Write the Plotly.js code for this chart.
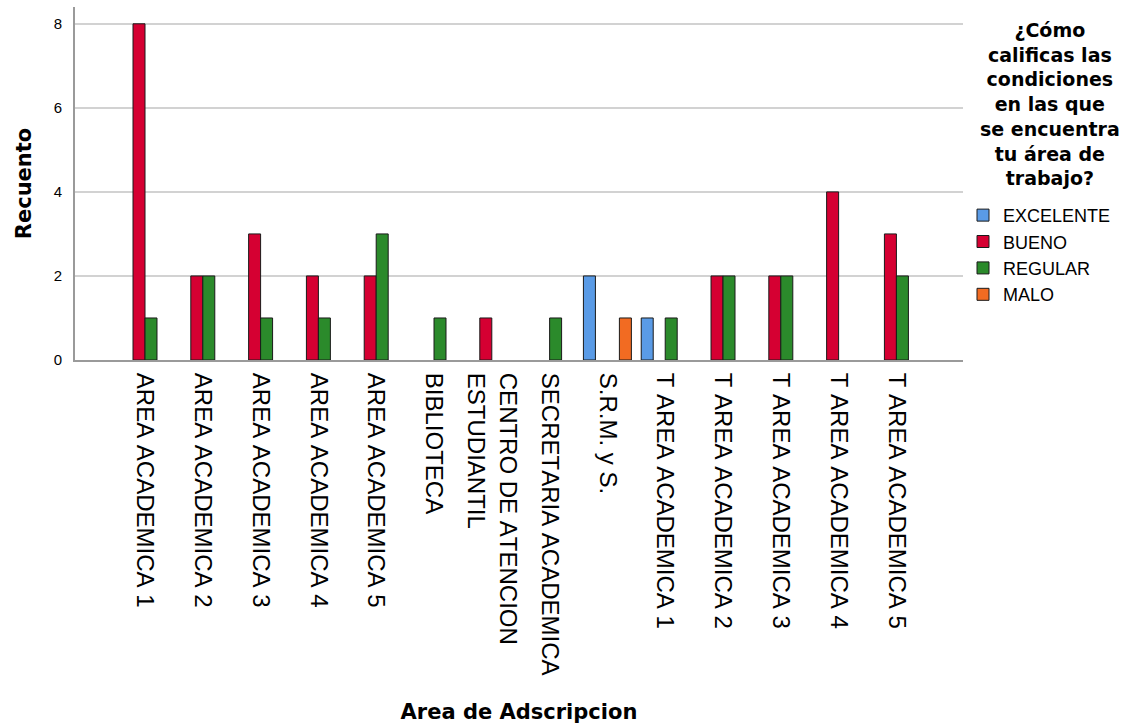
<!DOCTYPE html>
<html>
<head>
<meta charset="utf-8">
<script src="https://cdn.plot.ly/plotly-3.0.1.min.js"></script>
<style>
  html, body { margin: 0; padding: 0; background: #ffffff; }
  #chart { width: 1128px; height: 724px; }
  #chart svg text { font-kerning: none; font-feature-settings: "kern" 0; }
</style>
</head>
<body>
<div id="chart"></div>
<script>
// ---- data ----
var categories = [
  "AREA ACADEMICA 1", "AREA ACADEMICA 2", "AREA ACADEMICA 3", "AREA ACADEMICA 4",
  "AREA ACADEMICA 5", "BIBLIOTECA", "CENTRO DE ATENCION ESTUDIANTIL",
  "SECRETARIA ACADEMICA", "S.R.M. y S.", "T AREA ACADEMICA 1", "T AREA ACADEMICA 2",
  "T AREA ACADEMICA 3", "T AREA ACADEMICA 4", "T AREA ACADEMICA 5"
];
var tickLabels = [
  "AREA ACADEMICA 1", "AREA ACADEMICA 2", "AREA ACADEMICA 3", "AREA ACADEMICA 4",
  "AREA ACADEMICA 5", "BIBLIOTECA", "CENTRO DE ATENCION<br>ESTUDIANTIL",
  "SECRETARIA ACADEMICA", "S.R.M. y S.", "T AREA ACADEMICA 1", "T AREA ACADEMICA 2",
  "T AREA ACADEMICA 3", "T AREA ACADEMICA 4", "T AREA ACADEMICA 5"
];
var seriesNames = ["EXCELENTE", "BUENO", "REGULAR", "MALO"];
var excelente = [null, null, null, null, null, null, null, null, 2, 1, null, null, null, null];
var bueno     = [8, 2, 3, 2, 2, null, 1, null, null, null, 2, 2, 4, 3];
var regular   = [1, 2, 1, 1, 3, 1, null, 1, null, 1, 2, 2, null, 2];
var malo      = [null, null, null, null, null, null, null, null, 1, null, null, null, null, null];
var yTicks = [0, 2, 4, 6, 8];
var legendTitle = "¿Cómo<br>calificas las<br>condiciones<br>en las que<br>se encuentra<br>tu área de<br>trabajo?";

var colors = ["#5a9be6", "#d50032", "#2b8a2b", "#f26b22"];
var values = [excelente, bueno, regular, malo];

var traces = seriesNames.map(function (name, i) {
  return {
    type: "bar",
    name: name,
    x: categories,
    y: values[i],
    marker: { color: colors[i], line: { color: "#1a1a1a", width: 1 } },
    hoverinfo: "x+y+name"
  };
});

var boldFont = { family: "DejaVu Sans, sans-serif", size: 21, color: "#000000", weight: "bold" };

var layout = {
  width: 1128,
  height: 724,
  paper_bgcolor: "#ffffff",
  plot_bgcolor: "#ffffff",
  margin: { l: 75, r: 165, t: 7, b: 364, autoexpand: false },
  barmode: "group",
  bargap: 0.17,
  bargroupgap: 0,
  font: { family: "Liberation Sans, Arial, sans-serif", color: "#000000" },
  xaxis: {
    type: "category",
    range: [-1.211, 14.152],
    tickvals: categories,
    ticktext: tickLabels,
    tickangle: 90,
    tickfont: { family: "Liberation Sans, Arial, sans-serif", size: 24, color: "#000000" },
    ticks: "",
    ticklabelstandoff: 6,
    showline: true,
    linecolor: "#9a9a9a",
    linewidth: 2,
    showgrid: false,
    zeroline: false,
    automargin: false,
    title: { text: "Area de Adscripcion", font: boldFont, standoff: 50 }
  },
  yaxis: {
    range: [0, 8.4],
    tickvals: yTicks,
    ticktext: yTicks.map(String),
    tickfont: { family: "Liberation Sans, Arial, sans-serif", size: 15, color: "#000000" },
    ticks: "",
    ticklabelstandoff: 8,
    showline: true,
    linecolor: "#9a9a9a",
    linewidth: 2,
    showgrid: true,
    gridcolor: "#d2d2d2",
    gridwidth: 2,
    zeroline: false,
    automargin: false,
    title: { text: "Recuento", font: boldFont, standoff: 16 }
  },
  legend: {
    x: 1.0,
    xanchor: "left",
    y: 0.462,
    yanchor: "top",
    bgcolor: "rgba(0,0,0,0)",
    borderwidth: 0,
    font: { family: "Liberation Sans, Arial, sans-serif", size: 18, color: "#000000" },
    traceorder: "normal"
  },
  annotations: [{
    xref: "paper", yref: "paper",
    x: 1.098, y: 0.725,
    xanchor: "center", yanchor: "middle",
    align: "center",
    showarrow: false,
    text: legendTitle,
    font: { family: "DejaVu Sans, sans-serif", size: 19, color: "#000000", weight: "bold" }
  }],
  showlegend: true
};

Plotly.newPlot("chart", traces, layout, { displayModeBar: false, responsive: false });
</script>
</body>
</html>
